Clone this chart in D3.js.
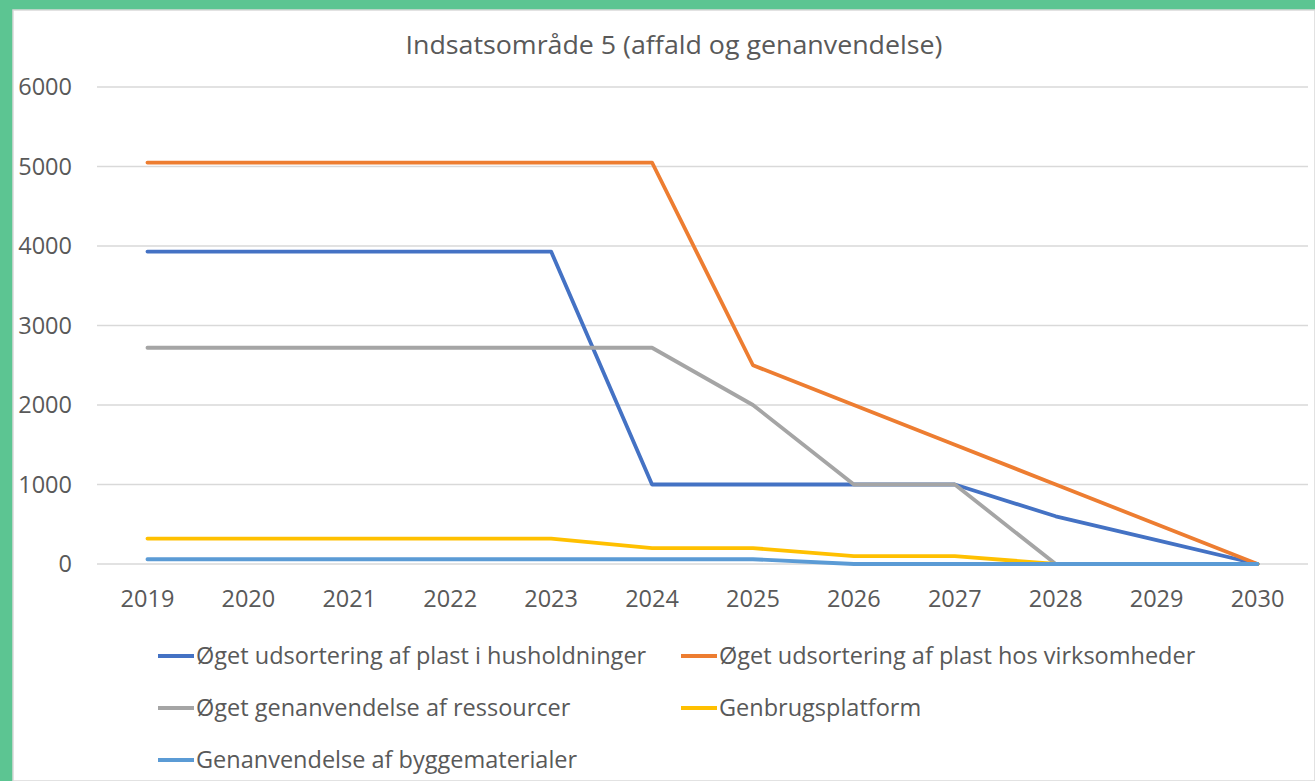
<!DOCTYPE html>
<html>
<head>
<meta charset="utf-8">
<script src="https://cdn.jsdelivr.net/npm/d3@7"></script>
<style>
  html, body { margin: 0; padding: 0; background: #5cc592; }
  svg { display: block; font-family: "Open Sans", sans-serif; }
</style>
</head>
<body>
<svg id="chart" width="1315" height="781"></svg>
<script>
var years = ['2019', '2020', '2021', '2022', '2023', '2024', '2025', '2026', '2027', '2028', '2029', '2030']
var yTicks = [0, 1000, 2000, 3000, 4000, 5000, 6000]

var husholdninger = [3930, 3930, 3930, 3930, 3930, 1000, 1000, 1000, 1000, 600, 300, 0]
var virksomheder  = [5050, 5050, 5050, 5050, 5050, 5050, 2500, 2000, 1500, 1000, 500, 0]
var ressourcer    = [2720, 2720, 2720, 2720, 2720, 2720, 2000, 1000, 1000, 0, 0, 0]
var genbrug       = [320, 320, 320, 320, 320, 200, 200, 100, 100, 0, 0, 0]
var byggemat      = [60, 60, 60, 60, 60, 60, 60, 0, 0, 0, 0, 0]

var seriesNames = [
  'Øget udsortering af plast i husholdninger',
  'Øget udsortering af plast hos virksomheder',
  'Øget genanvendelse af ressourcer',
  'Genbrugsplatform',
  'Genanvendelse af byggematerialer'
]
var seriesColors = ['#4472c4', '#ed7d31', '#a5a5a5', '#ffc000', '#5b9bd5']
var seriesValues = [husholdninger, virksomheder, ressourcer, genbrug, byggemat]

var svg = d3.select('#chart')

// white panel inside the green frame
svg.append('rect')
   .attr('x', 13).attr('y', 10)
   .attr('width', 1302).attr('height', 771)
   .attr('fill', '#fff')
   .attr('stroke', '#d9d9d9').attr('stroke-width', 1.5)

var plotL = 97, plotR = 1308, plotT = 87, plotB = 564

var x = d3.scaleBand().domain(years).range([plotL, plotR])
var y = d3.scaleLinear().domain([0, 6000]).range([plotB, plotT])

svg.append('text')
   .attr('x', 674).attr('y', 54)
   .attr('text-anchor', 'middle')
   .attr('fill', '#595959')
   .style('font-size', '25px')
   .attr('textLength', 537)
   .attr('lengthAdjust', 'spacingAndGlyphs')
   .text('Indsatsområde 5 (affald og genanvendelse)')

// grid
svg.append('g')
   .selectAll('line')
   .data(yTicks)
   .join('line')
   .attr('x1', plotL).attr('x2', plotR)
   .attr('y1', function (d) { return y(d) })
   .attr('y2', function (d) { return y(d) })
   .attr('stroke', '#d9d9d9')
   .attr('stroke-width', 1.5)

var yAxis = svg.append('g')
   .attr('transform', 'translate(' + 72 + ',0)')
   .call(d3.axisLeft(y).tickValues(yTicks).tickSize(0).tickPadding(0).tickFormat(d3.format('d')))
yAxis.select('.domain').remove()
yAxis.selectAll('text')
   .attr('fill', '#595959')
   .style('font-family', '"Open Sans", sans-serif')
   .style('font-size', '23.5px')

var xAxis = svg.append('g')
   .attr('transform', 'translate(0,' + 585 + ')')
   .call(d3.axisBottom(x).tickSize(0).tickPadding(0))
xAxis.select('.domain').remove()
xAxis.selectAll('text')
   .attr('fill', '#595959')
   .attr('dy', '0.95em')
   .style('font-family', '"Open Sans", sans-serif')
   .style('font-size', '23.5px')

var line = d3.line()
   .x(function (d, i) { return x(years[i]) + x.bandwidth() / 2 })
   .y(function (d) { return y(d) })

svg.append('g')
   .selectAll('path')
   .data(seriesValues)
   .join('path')
   .attr('d', line)
   .attr('fill', 'none')
   .attr('stroke', function (d, i) { return seriesColors[i] })
   .attr('stroke-width', 3.8)
   .attr('stroke-linejoin', 'round')
   .attr('stroke-linecap', 'round')

// legend
var legendPos = [[158, 656], [681, 656], [158, 708], [681, 708], [158, 760]]
var item = svg.append('g')
   .selectAll('g')
   .data(seriesNames)
   .join('g')
   .attr('transform', function (d, i) { return 'translate(' + legendPos[i] + ')' })

item.append('line')
   .attr('x1', 0).attr('x2', 36)
   .attr('stroke', function (d, i) { return seriesColors[i] })
   .attr('stroke-width', 3.8)

item.append('text')
   .attr('x', 38).attr('dy', '0.35em')
   .attr('fill', '#595959')
   .style('font-size', '23.5px')
   .text(function (d) { return d })
</script>
</body>
</html>
